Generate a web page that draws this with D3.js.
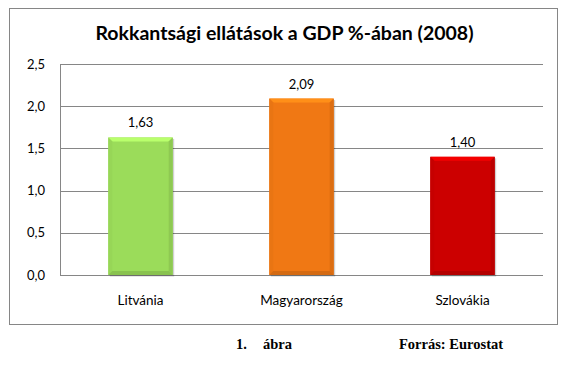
<!DOCTYPE html>
<html><head><meta charset="utf-8">
<script src="https://cdn.jsdelivr.net/npm/d3@7/dist/d3.min.js"></script>
<style>html,body{margin:0;padding:0;background:#fff;}svg{display:block;}</style>
</head><body>
<svg id="c" width="566" height="373"></svg>
<script>
const categories = ["Litvánia", "Magyarország", "Szlovákia"];
const values = [1.63, 2.09, 1.40];
const valueLabels = ["1,63", "2,09", "1,40"];
const colors = ["#9BDC5A", "#F07814", "#CC0000"];
const yTicks = [0, 0.5, 1.0, 1.5, 2.0, 2.5];
const title = "Rokkantsági ellátások a GDP %-ában (2008)";
const captionLeft = ["1.", "ábra"];
const captionRight = "Forrás: Eurostat";

(function () {
const svg = d3.select("#c");
const font = "Lato, 'Open Sans', sans-serif";
svg.append("rect").attr("x", 9.5).attr("y", 8.5).attr("width", 548).attr("height", 316)
  .attr("fill", "#fff").attr("stroke", "#868686").attr("stroke-width", 1);

const pLeft = 60, pRight = 543, pTop = 64, pBottom = 275;
const x = d3.scaleBand().domain(categories).range([pLeft, pRight]).paddingInner(0.6).paddingOuter(0.3);
const y = d3.scaleLinear().domain([0, 2.5]).range([pBottom, pTop]);

svg.append("g").selectAll("line").data(yTicks).join("line")
  .attr("x1", pLeft).attr("x2", pRight)
  .attr("y1", d => Math.round(y(d)) + 0.5).attr("y2", d => Math.round(y(d)) + 0.5)
  .attr("stroke", "#868686").attr("stroke-width", 1);
svg.append("line").attr("x1", pLeft + 0.5).attr("x2", pLeft + 0.5).attr("y1", y(2.5)).attr("y2", y(0))
  .attr("stroke", "#868686");

const fmt = d => d3.format(".1f")(d).replace(".", ",");
svg.append("g").selectAll("text").data(yTicks).join("text")
  .attr("x", 45).attr("y", d => y(d) + 4.5).attr("text-anchor", "end")
  .attr("font-family", font).attr("font-size", 13).attr("fill", "#000").text(fmt);

const b = 4;
function shade(c, k) { return d3.color(c).darker(k).formatHex(); }
function light(c, k) { return d3.color(c).brighter(k).formatHex(); }
const bars = svg.append("g").selectAll("g").data(values).join("g");
bars.each(function(v, i) {
  const g = d3.select(this);
  const x0 = x(categories[i]), w = x.bandwidth(), y0 = y(v), h = y(0) - y(v);
  const c = colors[i];
  g.append("rect").attr("x", x0 + 1.5).attr("y", y0 + 1.5).attr("width", w).attr("height", h)
    .attr("fill", "#000").attr("opacity", 0.18);
  g.append("rect").attr("x", x0).attr("y", y0).attr("width", w).attr("height", h).attr("fill", c);
  const x1 = x0 + w, y1 = y0 + h;
  g.append("polygon").attr("points", [[x0,y0],[x1,y0],[x1-b,y0+b],[x0+b,y0+b]].join(" "))
    .attr("fill", light(c, 0.5));
  g.append("polygon").attr("points", [[x0,y0],[x0+b,y0+b],[x0+b,y1-b],[x0,y1]].join(" "))
    .attr("fill", shade(c, 0.08));
  g.append("polygon").attr("points", [[x1,y0],[x1,y1],[x1-b,y1-b],[x1-b,y0+b]].join(" "))
    .attr("fill", shade(c, 0.25));
  g.append("polygon").attr("points", [[x0,y1],[x0+b,y1-b],[x1-b,y1-b],[x1,y1]].join(" "))
    .attr("fill", shade(c, 0.35));
});

svg.append("g").selectAll("text").data(values).join("text")
  .attr("x", (d, i) => x(categories[i]) + x.bandwidth() / 2).attr("y", d => y(d) - 10)
  .attr("text-anchor", "middle").attr("font-family", font).attr("font-size", 13)
  .attr("fill", "#000").text((d, i) => valueLabels[i]);

svg.append("g").selectAll("text").data(categories).join("text")
  .attr("x", d => x(d) + x.bandwidth() / 2).attr("y", 304.5)
  .attr("text-anchor", "middle").attr("font-family", font).attr("font-size", 13.5)
  .attr("fill", "#000").text(d => d);

svg.append("text").attr("x", 284.5).attr("y", 39.5).attr("text-anchor", "middle")
  .attr("font-family", font).attr("font-weight", "bold").attr("font-size", 19.5)
  .attr("fill", "#000").text(title);

const serif = "'Liberation Serif', 'DejaVu Serif', serif";
svg.append("text").attr("x", 236).attr("y", 349).attr("font-family", serif).attr("font-weight", "bold")
  .attr("font-size", 14.5).text(captionLeft[0]);
svg.append("text").attr("x", 263).attr("y", 349).attr("font-family", serif).attr("font-weight", "bold")
  .attr("font-size", 14.5).text(captionLeft[1]);
svg.append("text").attr("x", 399).attr("y", 349).attr("font-family", serif).attr("font-weight", "bold")
  .attr("font-size", 14.5).text(captionRight);
})();
</script>
</body></html>
